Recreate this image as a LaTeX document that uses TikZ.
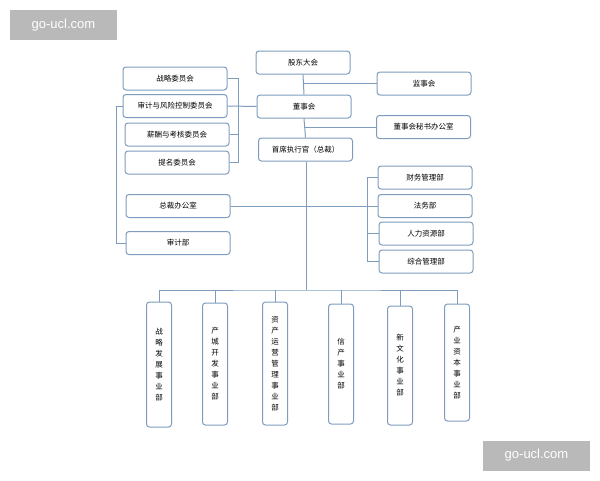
\documentclass[tikz,border=0pt]{standalone}
\usepackage{fontspec}
\setmainfont{Liberation Sans}
\newfontfamily\cjk{Noto Sans CJK SC}
\definecolor{bl}{HTML}{7E9DBE}
\begin{document}
\begin{tikzpicture}[x=1pt,y=-1pt,
 box/.style={draw=bl,line width=1pt,rounded corners=3pt,fill=white,font=\cjk\fontsize{7.5}{8}\selectfont,inner sep=0pt},
 hb/.style={box,minimum width=94pt,minimum height=23pt},
 vb/.style={box,minimum width=25pt,align=center,font=\cjk\fontsize{7.5}{11}\selectfont},
 ln/.style={draw=bl,line width=1pt},
 wm/.style={fill=gray!55,text=white,font=\fontsize{13}{14}\selectfont,minimum width=107pt,minimum height=30pt,inner sep=0pt}]
\useasboundingbox (0,0) rectangle (600,480);
\node[wm] (w1) at (63.5,25) {go-ucl.com};
\node[wm] (w2) at (536.5,455.5) {go-ucl.com};
\node[hb] (gd) at (303,62.5) {股东大会};
\node[hb] (js) at (424,83.5) {监事会};
\node[hb] (ds) at (304,106.5) {董事会};
\node[hb] (ms) at (423.5,127) {董事会秘书办公室};
\node[hb] (ceo) at (305.5,149.5) {首席执行官（总裁）};
\node[hb,minimum width=104pt] (c1) at (175,78.5) {战略委员会};
\node[hb,minimum width=104pt] (c2) at (175,106) {审计与风险控制委员会};
\node[hb,minimum width=104pt] (c3) at (177,134.5) {薪酬与考核委员会};
\node[hb,minimum width=104pt] (c4) at (177,162.5) {提名委员会};
\node[hb,minimum width=104pt] (zb) at (178,206) {总裁办公室};
\node[hb,minimum width=104pt] (sj) at (178,243) {审计部};
\node[hb] (d1) at (425,177.5) {财务管理部};
\node[hb] (d2) at (425,206) {法务部};
\node[hb] (d3) at (426,233.5) {人力资源部};
\node[hb] (d4) at (426,261.5) {综合管理部};
\node[vb,minimum height=125pt] (b1) at (159,364.5) {战\\略\\发\\展\\事\\业\\部};
\node[vb,minimum height=122pt] (b2) at (215,364) {产\\城\\开\\发\\事\\业\\部};
\node[vb,minimum height=123pt] (b3) at (275,363.5) {资\\产\\运\\营\\管\\理\\事\\业\\部};
\node[vb,minimum height=120pt] (b4) at (341,364) {信\\产\\事\\业\\部};
\node[vb,minimum height=119pt] (b5) at (400,365.5) {新\\文\\化\\事\\业\\部};
\node[vb,minimum height=117pt] (b6) at (457,362.5) {产\\业\\资\\本\\事\\业\\部};
\path[ln] (gd.south) -- (ds.north);
\path[ln] (js.west) -- (gd.south |- js.west);
\path[ln] (ds.south) -- (ceo.north);
\path[ln] (ms.west) -- (ds.south |- ms.west);
\path[ln] (c1.east) -| (238,106) coordinate (bk);
\path[ln] (c4.east) -| (bk);
\path[ln] (c3.east) -- (c3.east -| bk);
\path[ln] (c2.east) -- (ds.west);
\path[ln] (c2.west) -| (116,243) -- (sj.west);
\coordinate (bt) at (306,290);
\path[ln] (ceo.south -| bt) -- (bt);
\path[ln] (zb.east) -- (d2.west);
\path[ln] (d1.west) -| (367,261.5) -- (d4.west);
\path[ln] (d3.west) -- (367,233.5);
\path[ln] (b1.north) |- (bt) -| (b6.north);
\foreach \b in {b2,b3,b4,b5} \path[ln] (\b.north) -- (\b.north |- bt);
\end{tikzpicture}
\end{document}
